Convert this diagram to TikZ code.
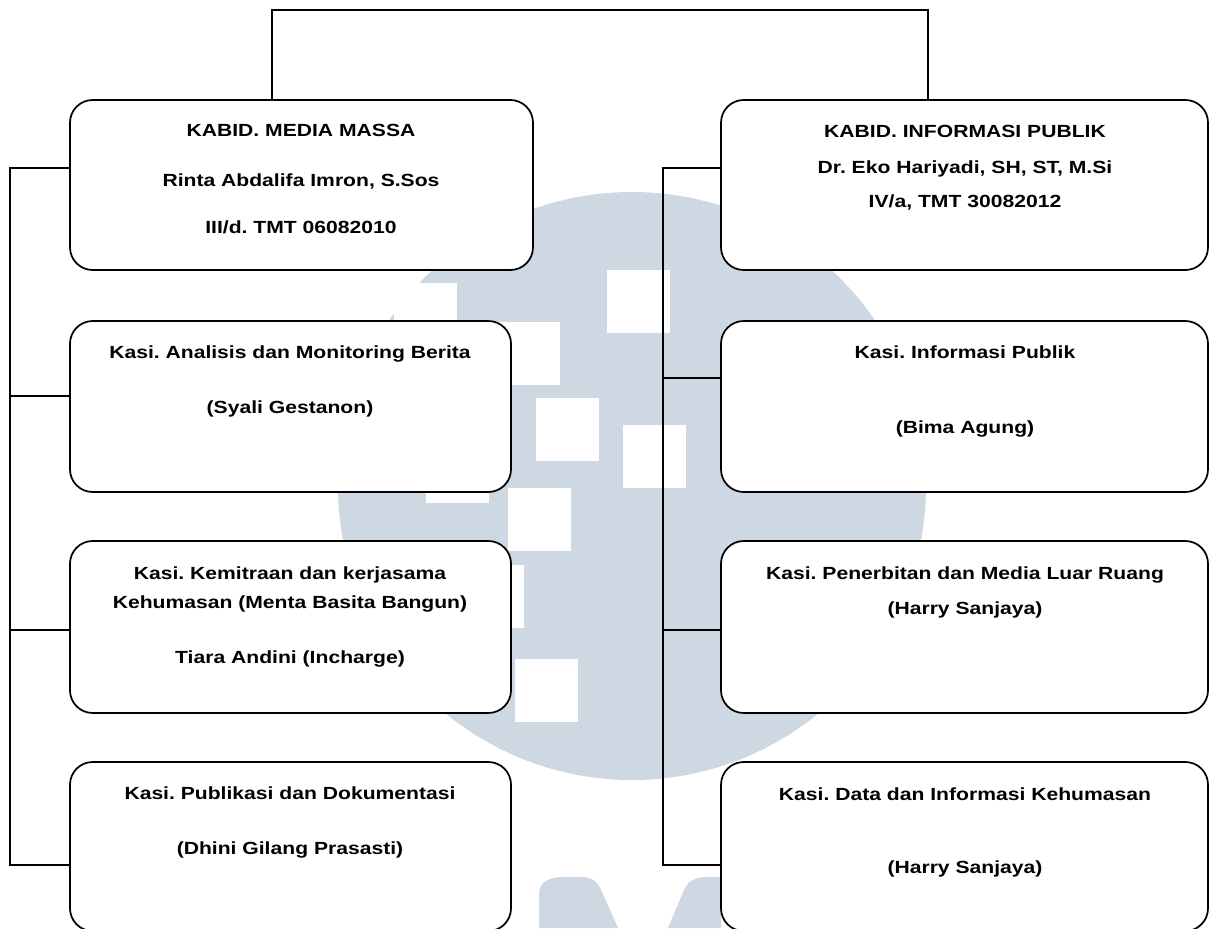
\documentclass[tikz,border=0pt]{standalone}
\usepackage{fontspec}
\setmainfont{Liberation Sans}[FakeStretch=1.2]
\usetikzlibrary{fit}
\definecolor{wmblue}{RGB}{205,216,226}
\tikzset{
  box/.style={draw, fill=white, rounded corners=17pt, line width=1.3pt, inner sep=0pt},
  txt/.style={anchor=base, inner sep=0pt, font=\fontsize{13.2}{15}\selectfont\bfseries\frenchspacing},
  link/.style={line width=1.2pt},
  wm/.style={fill=wmblue}
}
\begin{document}
\begin{tikzpicture}[x=0.75pt,y=-0.75pt]
	\useasboundingbox (0,0) rectangle (1209,928);
	\clip (0,0) rectangle (1209,928);
	% watermark
	\fill[wm] (632,486) circle [radius=294];
	\foreach \x/\y in {394/283,607/270,497/322,536/398,623/425,426/440,508/488,461/565,515/659}
		\fill[white] (\x,\y) rectangle ++(63,63);
	\fill[wm] (539,928) -- (539,895) .. controls (539,882) and (548,877) .. (565,877) -- (582,877) .. controls (592,877) and (598,882) .. (602,892) -- (618,928) -- cycle;
	\fill[wm] (668,928) -- (684,890) .. controls (688,881) and (695,877) .. (708,877) -- (721,877) -- (721,928) -- cycle;
	% boxes
	\node[box, fit={(70,100) (533,270)}] (mm) {};
	\node[box, fit={(70,321) (511,492)}] (amb) {};
	\node[box, fit={(70,541) (511,713)}] (kkh) {};
	\node[box, fit={(70,762) (511,931)}] (pd) {};
	\node[box, fit={(721,100) (1208,270)}] (ip) {};
	\node[box, fit={(721,321) (1208,492)}] (inf) {};
	\node[box, fit={(721,541) (1208,713)}] (pmlr) {};
	\node[box, fit={(721,762) (1208,931)}] (dik) {};
	% texts
	\node[txt] (mm1) at (301,136) {KABID. MEDIA MASSA};
	\node[txt] (mm2) at (301,186) {Rinta Abdalifa Imron, S.Sos};
	\node[txt] (mm3) at (301,233) {III/d. TMT 06082010};
	\node[txt] (ip1) at (965,137) {KABID. INFORMASI PUBLIK};
	\node[txt] (ip2) at (965,173) {Dr. Eko Hariyadi, SH, ST, M.Si};
	\node[txt] (ip3) at (965,207) {IV/a, TMT 30082012};
	\node[txt] (amb1) at (290,358) {Kasi. Analisis dan Monitoring Berita};
	\node[txt] (amb2) at (290,413) {(Syali Gestanon)};
	\node[txt] (kkh1) at (290,579) {Kasi. Kemitraan dan kerjasama};
	\node[txt] (kkh2) at (290,608) {Kehumasan (Menta Basita Bangun)};
	\node[txt] (kkh3) at (290,663) {Tiara Andini (Incharge)};
	\node[txt] (pd1) at (290,799) {Kasi. Publikasi dan Dokumentasi};
	\node[txt] (pd2) at (290,854) {(Dhini Gilang Prasasti)};
	\node[txt] (inf1) at (965,358) {Kasi. Informasi Publik};
	\node[txt] (inf2) at (965,433) {(Bima Agung)};
	\node[txt] (pmlr1) at (965,579) {Kasi. Penerbitan dan Media Luar Ruang};
	\node[txt] (pmlr2) at (965,614) {(Harry Sanjaya)};
	\node[txt] (dik1) at (965,800) {Kasi. Data dan Informasi Kehumasan};
	\node[txt] (dik2) at (965,873) {(Harry Sanjaya)};
	% connectors
	\coordinate (jl) at (272,10);
	\coordinate (jr) at (928,10);
	\draw[link] (jl |- mm.north) |- (jr) -- (jr |- ip.north);
	\coordinate (lt1) at (10,168);
	\coordinate (lt2) at (10,396);
	\coordinate (lt3) at (10,630);
	\coordinate (lt4) at (10,865);
	\draw[link] (lt1 -| mm.west) -| (lt4) -- (lt4 -| pd.west);
	\draw[link] (lt2) -- (lt2 -| amb.west);
	\draw[link] (lt3) -- (lt3 -| kkh.west);
	\coordinate (rt1) at (663,168);
	\coordinate (rt2) at (663,378);
	\coordinate (rt3) at (663,630);
	\coordinate (rt4) at (663,865);
	\draw[link] (rt1 -| ip.west) -| (rt4) -- (rt4 -| dik.west);
	\draw[link] (rt2) -- (rt2 -| inf.west);
	\draw[link] (rt3) -- (rt3 -| pmlr.west);
\end{tikzpicture}
\end{document}
